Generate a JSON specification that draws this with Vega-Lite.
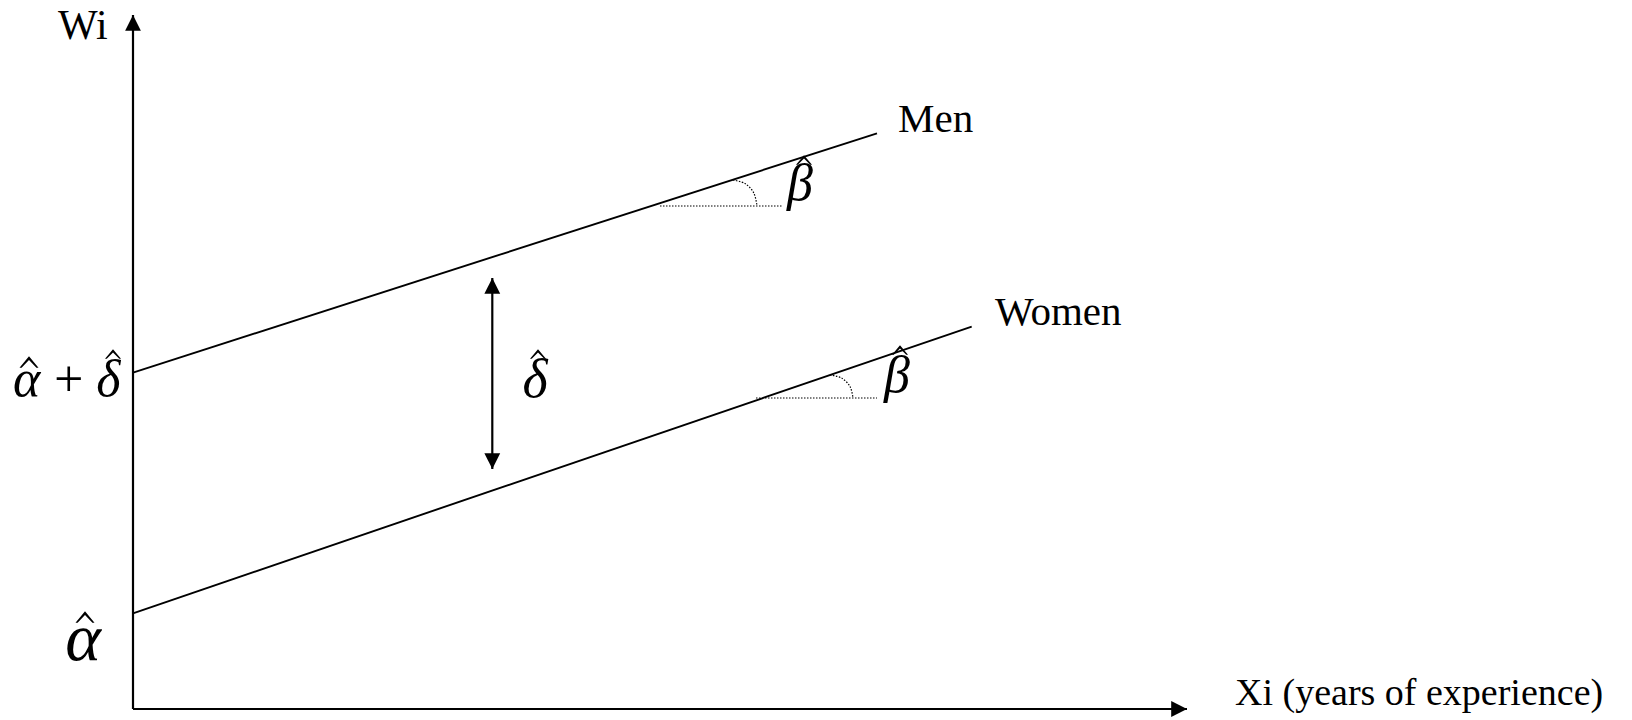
{
  "$schema": "https://vega.github.io/schema/vega-lite/v6.json",
  "width": 1632,
  "height": 720,
  "padding": 0,
  "autosize": "none",
  "background": "white",
  "config": {"view": {"stroke": null}},
  "datasets": {
    "axes": [
      {"x": 0, "y": 0, "x2": 0, "y2": 69.4},
      {"x": 0, "y": 0, "x2": 105.4, "y2": 0}
    ],
    "lines": [
      {"group": "Men", "x": 0, "y": 33.63, "x2": 74.4, "y2": 57.57},
      {"group": "Women", "x": 0, "y": 9.57, "x2": 83.87, "y2": 38.23}
    ],
    "gap": [
      {"x": 35.93, "y": 43.1, "x2": 35.93, "y2": 24.0}
    ],
    "dotted": [
      {"group": "Men", "x": 52.7, "y": 50.3, "x2": 65.0, "y2": 50.3},
      {"group": "Women", "x": 62.3, "y": 31.1, "x2": 74.4, "y2": 31.1}
    ],
    "arcs": [
      {"group": "Men", "o": 1, "x": 60.0, "y": 52.9},
      {"group": "Men", "o": 2, "x": 61.2, "y": 52.55},
      {"group": "Men", "o": 3, "x": 62.08, "y": 51.6},
      {"group": "Men", "o": 4, "x": 62.4, "y": 50.3},
      {"group": "Women", "o": 1, "x": 69.7, "y": 33.4},
      {"group": "Women", "o": 2, "x": 70.85, "y": 33.1},
      {"group": "Women", "o": 3, "x": 71.7, "y": 32.25},
      {"group": "Women", "o": 4, "x": 72.0, "y": 31.1}
    ],
    "upTips": [
      {"x": 0, "y": 69.4},
      {"x": 35.93, "y": 43.1}
    ],
    "rightTips": [
      {"x": 105.4, "y": 0}
    ],
    "downTips": [
      {"x": 35.93, "y": 24.0}
    ],
    "wi": [
      {"label": "Wi", "x": -7.5, "y": 67.0}
    ],
    "labels": [
      {"label": "Men", "x": 76.5, "y": 57.7},
      {"label": "Women", "x": 86.2, "y": 38.4}
    ],
    "xlabel": [
      {"label": "Xi (years of experience)", "x": 110.2, "y": 0.4}
    ],
    "betas": [
      {"label": "β", "x": 66.7, "y": 50.9},
      {"label": "β", "x": 76.4, "y": 31.7}
    ],
    "delta": [
      {"label": "δ", "x": 40.2, "y": 31.2}
    ],
    "alphaDelta": [
      {"label": "α\u2009+\u2009δ", "x": -12.0, "y": 31.3}
    ],
    "alpha": [
      {"label": "α", "x": -5.0, "y": 4.9}
    ],
    "smallHats": [
      {"over": "β men", "x": 67.1, "y": 54.9},
      {"over": "β women", "x": 76.7, "y": 35.9},
      {"over": "δ gap", "x": 40.5, "y": 35.5},
      {"over": "δ intercept", "x": -2.0, "y": 35.5}
    ],
    "largeHats": [
      {"over": "α intercept", "x": -10.4, "y": 34.7},
      {"over": "α base", "x": -4.8, "y": 9.2}
    ]
  },
  "encoding": {
    "x": {"field": "x", "type": "quantitative", "scale": {"domain": [-13.3, 149.9], "nice": false, "zero": false}, "axis": null},
    "y": {"field": "y", "type": "quantitative", "scale": {"domain": [-1.1, 70.9], "nice": false, "zero": false}, "axis": null}
  },
  "layer": [
    {
      "data": {"name": "axes"},
      "mark": {"type": "rule", "color": "black", "strokeWidth": 2.2},
      "encoding": {"x2": {"field": "x2"}, "y2": {"field": "y2"}}
    },
    {
      "data": {"name": "lines"},
      "mark": {"type": "rule", "color": "black", "strokeWidth": 1.9},
      "encoding": {"x2": {"field": "x2"}, "y2": {"field": "y2"}}
    },
    {
      "data": {"name": "gap"},
      "mark": {"type": "rule", "color": "black", "strokeWidth": 2.2},
      "encoding": {"x2": {"field": "x2"}, "y2": {"field": "y2"}}
    },
    {
      "data": {"name": "dotted"},
      "mark": {"type": "rule", "color": "black", "strokeWidth": 1.2, "strokeDash": [1.5, 1.5]},
      "encoding": {"x2": {"field": "x2"}, "y2": {"field": "y2"}}
    },
    {
      "data": {"name": "arcs"},
      "mark": {"type": "line", "color": "black", "strokeWidth": 1.2, "strokeDash": [1.5, 1.5], "interpolate": "cardinal"},
      "encoding": {"detail": {"field": "group"}, "order": {"field": "o"}}
    },
    {
      "data": {"name": "upTips"},
      "mark": {"type": "point", "shape": "M0,0L0.5,1L-0.5,1Z", "size": 1000, "filled": true, "color": "black", "opacity": 1, "angle": 0}
    },
    {
      "data": {"name": "rightTips"},
      "mark": {"type": "point", "shape": "M0,0L0.5,1L-0.5,1Z", "size": 1000, "filled": true, "color": "black", "opacity": 1, "angle": 90}
    },
    {
      "data": {"name": "downTips"},
      "mark": {"type": "point", "shape": "M0,0L0.5,1L-0.5,1Z", "size": 1000, "filled": true, "color": "black", "opacity": 1, "angle": 180}
    },
    {
      "data": {"name": "wi"},
      "mark": {"type": "text", "font": "Liberation Serif", "fontSize": 42, "align": "left", "baseline": "alphabetic", "color": "black"},
      "encoding": {"text": {"field": "label"}}
    },
    {
      "data": {"name": "labels"},
      "mark": {"type": "text", "font": "Liberation Serif", "fontSize": 41, "align": "left", "baseline": "alphabetic", "color": "black"},
      "encoding": {"text": {"field": "label"}}
    },
    {
      "data": {"name": "xlabel"},
      "mark": {"type": "text", "font": "Liberation Serif", "fontSize": 38, "align": "left", "baseline": "alphabetic", "color": "black"},
      "encoding": {"text": {"field": "label"}}
    },
    {
      "data": {"name": "betas"},
      "mark": {"type": "text", "font": "Liberation Serif", "fontStyle": "italic", "fontSize": 52, "align": "center", "baseline": "alphabetic", "color": "black"},
      "encoding": {"text": {"field": "label"}}
    },
    {
      "data": {"name": "delta"},
      "mark": {"type": "text", "font": "Liberation Serif", "fontStyle": "italic", "fontSize": 54, "align": "center", "baseline": "alphabetic", "color": "black"},
      "encoding": {"text": {"field": "label"}}
    },
    {
      "data": {"name": "alphaDelta"},
      "mark": {"type": "text", "font": "Liberation Serif", "fontStyle": "italic", "fontSize": 52, "align": "left", "baseline": "alphabetic", "color": "black"},
      "encoding": {"text": {"field": "label"}}
    },
    {
      "data": {"name": "alpha"},
      "mark": {"type": "text", "font": "Liberation Serif", "fontStyle": "italic", "fontSize": 68, "align": "center", "baseline": "alphabetic", "color": "black"},
      "encoding": {"text": {"field": "label"}}
    },
    {
      "data": {"name": "smallHats"},
      "mark": {"type": "point", "shape": "M-1,0.6L0,-0.6L1,0.6L0.78,0.6L0,-0.2L-0.78,0.6Z", "size": 256, "filled": true, "color": "black", "opacity": 1}
    },
    {
      "data": {"name": "largeHats"},
      "mark": {"type": "point", "shape": "M-1,0.6L0,-0.6L1,0.6L0.78,0.6L0,-0.2L-0.78,0.6Z", "size": 361, "filled": true, "color": "black", "opacity": 1}
    }
  ]
}
